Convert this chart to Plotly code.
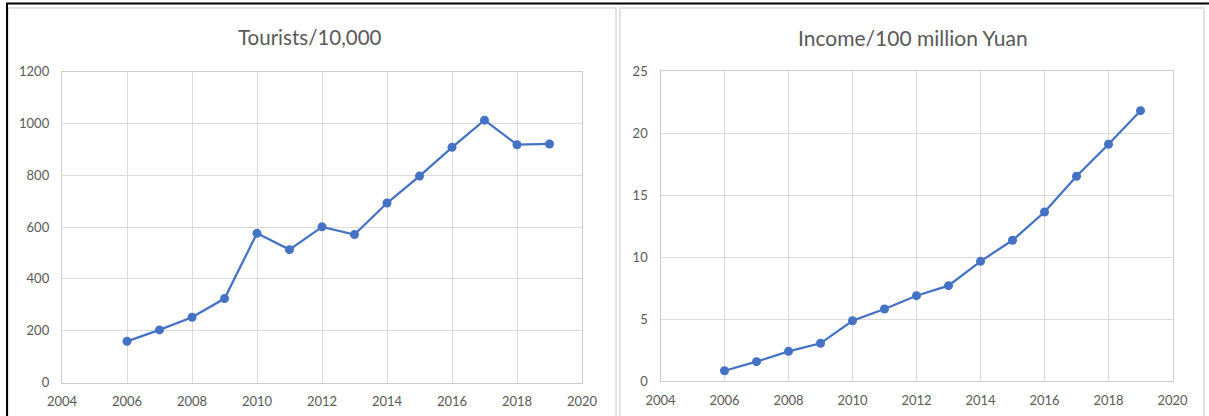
import plotly.graph_objects as go

W, H = 1209, 416

years = [2006, 2007, 2008, 2009, 2010, 2011, 2012, 2013, 2014, 2015, 2016, 2017, 2018, 2019]
tourists = [159, 203, 252, 324, 576, 513, 601, 571, 693, 797, 908, 1013, 918, 921]
income = [0.83, 1.56, 2.39, 3.04, 4.86, 5.81, 6.88, 7.69, 9.65, 11.35, 13.63, 16.51, 19.09, 21.8]

titles = ["Tourists/10,000", "Income/100 million Yuan"]

LINE = "#4472C4"
GRID = "#dadada"
AXIS = "#cccccc"
TEXT = "#595959"
FONT = "Lato, Open Sans, sans-serif"


def px(x):
    return x / W


def py(y):
    return 1 - y / H


fig = go.Figure()

fig.add_trace(go.Scatter(
    x=years, y=tourists, mode="lines+markers", xaxis="x", yaxis="y",
    line=dict(color=LINE, width=2.25), marker=dict(color=LINE, size=9),
    showlegend=False,
))
fig.add_trace(go.Scatter(
    x=years, y=income, mode="lines+markers", xaxis="x2", yaxis="y2",
    line=dict(color=LINE, width=2.25), marker=dict(color=LINE, size=9),
    showlegend=False,
))

common_x = dict(
    range=[2004, 2020], dtick=2, tick0=2004, showgrid=True, gridcolor=GRID, gridwidth=1.4,
    showline=True, linecolor=AXIS, linewidth=1.4, mirror=True, zeroline=False,
    ticks="", tickfont=dict(family=FONT, size=13, color=TEXT), ticklabelstandoff=7,
    fixedrange=True, automargin=False,
)
common_y = dict(
    showgrid=True, gridcolor=GRID, gridwidth=1.4, showline=True, linecolor=AXIS,
    linewidth=1.4, mirror=True, zeroline=False, ticks="",
    tickfont=dict(family=FONT, size=13, color=TEXT), ticklabelstandoff=9,
    fixedrange=True, automargin=False,
)

fig.update_layout(
    template="none",
    width=W, height=H,
    margin=dict(l=0, r=0, t=0, b=0, pad=0, autoexpand=False),
    paper_bgcolor="white", plot_bgcolor="white",
    showlegend=False,
    xaxis=dict(domain=[px(62), px(582)], anchor="y", **common_x),
    yaxis=dict(domain=[py(382.5), py(71.7)], anchor="x", range=[0, 1200], dtick=200, **common_y),
    xaxis2=dict(domain=[px(660.5), px(1172.5)], anchor="y2", **common_x),
    yaxis2=dict(domain=[py(381), py(71)], anchor="x2", range=[0, 25], dtick=5, **common_y),
    annotations=[
        dict(text=titles[0], x=px(310), y=py(37), xref="paper", yref="paper",
             showarrow=False, xanchor="center", yanchor="middle",
             font=dict(family=FONT, size=20.5, color=TEXT)),
        dict(text=titles[1], x=px(913), y=py(37), xref="paper", yref="paper",
             showarrow=False, xanchor="center", yanchor="middle",
             font=dict(family=FONT, size=21, color=TEXT)),
    ],
    shapes=[
        # chart frames
        dict(type="rect", xref="paper", yref="paper", x0=px(8), x1=px(616), y0=py(420), y1=py(8),
             line=dict(color=GRID, width=1.5)),
        dict(type="rect", xref="paper", yref="paper", x0=px(620), x1=px(1204), y0=py(420), y1=py(8),
             line=dict(color=GRID, width=1.5)),
        # outer black edge
        dict(type="line", xref="paper", yref="paper", x0=px(6), x1=px(1209), y0=py(3.5), y1=py(3.5),
             line=dict(color="black", width=2)),
        dict(type="line", xref="paper", yref="paper", x0=px(7), x1=px(7), y0=py(3), y1=py(416),
             line=dict(color="black", width=2)),
    ],
)

fig.write_html("out.html")
